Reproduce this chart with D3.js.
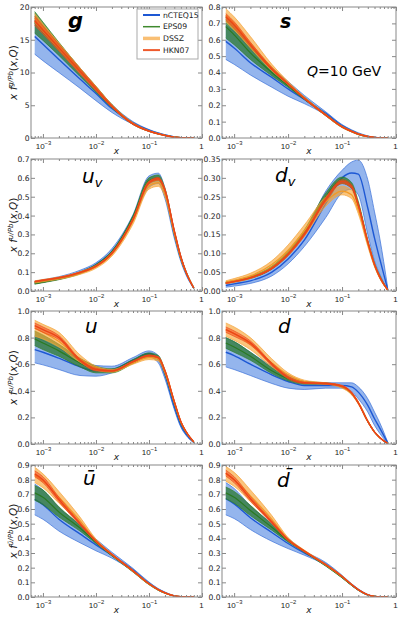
<!DOCTYPE html>
<html><head><meta charset="utf-8">
<script src="https://cdn.jsdelivr.net/npm/d3@7"></script>
<style>body{margin:0;background:#fff} svg{display:block;font-family:"DejaVu Sans",sans-serif}</style>
</head><body>
<svg id="c" width="399" height="619"></svg>
<script>
// x grid shared by every curve
const xGrid = [7e-4, 1e-3, 2e-3, 5e-3, 0.01, 0.02, 0.05, 0.1, 0.15, 0.2, 0.3, 0.4, 0.5, 0.7];
const xTickVals = [1e-3, 1e-2, 1e-1, 1];
const xTickExps = ["\u22123", "\u22122", "\u22121", ""];
const setNames = ["nCTEQ15", "EPS09", "DSSZ", "HKN07"];
const panelNames = ["g", "s", "uv", "dv", "u", "d", "ubar", "dbar"];

// each: [lower, central, upper]
const g_nCTEQ15 = [[12.8,11.8,10.0,7.6,5.7,3.9,2.1,1.1,0.65,0.40,0.14,0.045,0.01,0],[15.5,14.3,12.0,9.0,6.8,4.5,2.3,1.2,0.72,0.45,0.17,0.06,0.02,0],[18.0,16.6,14.0,10.4,7.8,5.1,2.5,1.3,0.80,0.50,0.20,0.075,0.03,0]];
const g_EPS09   = [[16.0,14.9,12.6,9.4,7.0,4.6,2.05,1.0,0.59,0.37,0.13,0.04,0.01,0],[17.6,16.2,13.5,10.0,7.4,4.8,2.15,1.05,0.63,0.40,0.15,0.05,0.015,0],[19.3,17.7,14.6,10.7,7.9,5.1,2.3,1.12,0.68,0.43,0.17,0.06,0.02,0]];
const g_DSSZ    = [[17.6,16.2,13.5,9.9,7.3,4.7,2.1,1.02,0.6,0.37,0.13,0.04,0.01,0],[18.3,16.8,14.0,10.3,7.6,4.9,2.2,1.07,0.64,0.40,0.15,0.05,0.015,0],[19.0,17.4,14.5,10.7,7.9,5.1,2.3,1.12,0.68,0.43,0.17,0.06,0.02,0]];
const g_HKN07   = [[17.2,15.9,13.3,9.8,7.2,4.7,2.05,1.0,0.59,0.36,0.13,0.04,0.01,0],[17.9,16.5,13.8,10.2,7.5,4.85,2.15,1.05,0.62,0.38,0.14,0.045,0.012,0],[18.6,17.1,14.3,10.6,7.8,5.0,2.25,1.1,0.66,0.41,0.16,0.055,0.02,0]];

const s_nCTEQ15 = [[0.48,0.45,0.385,0.31,0.255,0.21,0.14,0.068,0.04,0.022,0.007,0.002,0,0],[0.59,0.55,0.46,0.37,0.30,0.235,0.15,0.075,0.045,0.027,0.01,0.004,0.001,0],[0.69,0.65,0.55,0.43,0.345,0.26,0.16,0.082,0.05,0.032,0.013,0.005,0.002,0]];
const s_EPS09   = [[0.61,0.57,0.48,0.38,0.31,0.235,0.135,0.064,0.037,0.02,0.007,0.002,0,0],[0.68,0.63,0.52,0.40,0.32,0.24,0.14,0.068,0.04,0.023,0.008,0.003,0.001,0],[0.74,0.69,0.57,0.43,0.335,0.25,0.145,0.072,0.043,0.026,0.01,0.004,0.001,0]];
const s_DSSZ    = [[0.71,0.66,0.55,0.41,0.325,0.24,0.135,0.064,0.037,0.021,0.007,0.002,0,0],[0.75,0.70,0.58,0.43,0.335,0.245,0.14,0.068,0.04,0.024,0.009,0.003,0.001,0],[0.79,0.74,0.62,0.45,0.345,0.25,0.145,0.072,0.044,0.027,0.011,0.004,0.001,0]];
const s_HKN07   = [[0.72,0.67,0.56,0.415,0.325,0.238,0.137,0.066,0.038,0.022,0.008,0.002,0,0],[0.74,0.69,0.57,0.42,0.33,0.242,0.14,0.068,0.04,0.024,0.009,0.003,0.001,0],[0.76,0.71,0.585,0.43,0.335,0.246,0.143,0.07,0.042,0.025,0.01,0.004,0.001,0]];

const uv_nCTEQ15 = [[0.038,0.046,0.062,0.093,0.132,0.20,0.375,0.55,0.57,0.49,0.28,0.155,0.085,0.012],[0.045,0.052,0.068,0.100,0.140,0.21,0.39,0.58,0.60,0.52,0.30,0.17,0.095,0.015],[0.052,0.060,0.076,0.110,0.150,0.225,0.405,0.61,0.625,0.545,0.32,0.185,0.105,0.018]];
const uv_EPS09   = [[0.036,0.044,0.060,0.091,0.130,0.198,0.38,0.57,0.585,0.515,0.30,0.168,0.095,0.014],[0.040,0.048,0.064,0.096,0.135,0.205,0.39,0.585,0.60,0.53,0.31,0.175,0.10,0.016],[0.045,0.053,0.069,0.101,0.141,0.212,0.40,0.60,0.615,0.545,0.32,0.182,0.105,0.018]];
const uv_DSSZ    = [[0.042,0.049,0.062,0.088,0.120,0.185,0.355,0.54,0.555,0.50,0.30,0.168,0.095,0.014],[0.048,0.055,0.068,0.095,0.128,0.195,0.37,0.56,0.575,0.52,0.31,0.175,0.10,0.016],[0.054,0.061,0.074,0.102,0.136,0.205,0.385,0.58,0.595,0.54,0.32,0.182,0.105,0.018]];
const uv_HKN07   = [[0.048,0.055,0.068,0.096,0.129,0.196,0.375,0.568,0.588,0.528,0.315,0.176,0.098,0.015],[0.050,0.057,0.070,0.098,0.132,0.20,0.38,0.575,0.595,0.535,0.32,0.18,0.10,0.016],[0.052,0.059,0.072,0.100,0.135,0.204,0.385,0.582,0.602,0.542,0.325,0.184,0.102,0.017]];

const dv_nCTEQ15 = [[0.010,0.013,0.020,0.040,0.072,0.118,0.195,0.26,0.27,0.255,0.15,0.08,0.045,0.002],[0.015,0.019,0.027,0.050,0.085,0.135,0.232,0.30,0.313,0.31,0.22,0.14,0.085,0.005],[0.020,0.025,0.034,0.060,0.098,0.152,0.265,0.32,0.342,0.347,0.295,0.21,0.14,0.01]];
const dv_EPS09   = [[0.020,0.024,0.033,0.058,0.094,0.148,0.24,0.285,0.272,0.222,0.125,0.066,0.035,0.002],[0.022,0.026,0.036,0.062,0.100,0.155,0.25,0.295,0.28,0.23,0.13,0.07,0.038,0.003],[0.024,0.028,0.039,0.066,0.106,0.162,0.26,0.302,0.288,0.238,0.135,0.074,0.041,0.004]];
const dv_DSSZ    = [[0.019,0.023,0.033,0.060,0.094,0.145,0.225,0.255,0.245,0.205,0.118,0.064,0.033,0.002],[0.023,0.028,0.040,0.070,0.108,0.16,0.237,0.265,0.255,0.215,0.125,0.068,0.036,0.003],[0.027,0.033,0.047,0.080,0.122,0.175,0.25,0.278,0.267,0.225,0.132,0.072,0.039,0.004]];
const dv_HKN07   = [[0.020,0.024,0.034,0.058,0.094,0.146,0.238,0.285,0.272,0.224,0.127,0.068,0.035,0.002],[0.021,0.025,0.035,0.060,0.097,0.15,0.243,0.29,0.277,0.228,0.13,0.07,0.037,0.003],[0.022,0.026,0.036,0.062,0.100,0.154,0.248,0.295,0.282,0.232,0.133,0.072,0.039,0.004]];

const u_nCTEQ15 = [[0.61,0.595,0.56,0.515,0.51,0.535,0.61,0.655,0.61,0.49,0.26,0.125,0.065,0.01],[0.71,0.69,0.645,0.58,0.55,0.56,0.63,0.68,0.64,0.52,0.28,0.14,0.075,0.012],[0.81,0.78,0.72,0.64,0.59,0.585,0.65,0.70,0.665,0.55,0.30,0.155,0.085,0.015]];
const u_EPS09   = [[0.74,0.71,0.66,0.58,0.535,0.535,0.605,0.655,0.635,0.525,0.30,0.153,0.085,0.013],[0.79,0.76,0.70,0.61,0.56,0.55,0.62,0.67,0.65,0.54,0.31,0.16,0.09,0.015],[0.85,0.82,0.75,0.645,0.585,0.565,0.635,0.685,0.665,0.555,0.32,0.167,0.095,0.017]];
const u_DSSZ    = [[0.81,0.79,0.73,0.615,0.555,0.54,0.60,0.635,0.625,0.53,0.305,0.158,0.087,0.013],[0.87,0.84,0.77,0.64,0.57,0.55,0.61,0.65,0.64,0.545,0.315,0.165,0.092,0.015],[0.93,0.90,0.84,0.67,0.585,0.56,0.62,0.665,0.655,0.56,0.325,0.172,0.097,0.017]];
const u_HKN07   = [[0.87,0.84,0.785,0.62,0.55,0.545,0.615,0.66,0.645,0.545,0.315,0.164,0.091,0.014],[0.89,0.86,0.80,0.63,0.56,0.55,0.62,0.665,0.65,0.55,0.32,0.167,0.093,0.015],[0.91,0.88,0.815,0.64,0.57,0.555,0.625,0.67,0.655,0.555,0.325,0.17,0.095,0.016]];

const d_nCTEQ15 = [[0.58,0.56,0.515,0.455,0.42,0.41,0.42,0.42,0.395,0.34,0.24,0.14,0.08,0.005],[0.69,0.665,0.60,0.52,0.47,0.44,0.44,0.44,0.43,0.39,0.29,0.19,0.12,0.01],[0.80,0.77,0.69,0.585,0.52,0.47,0.46,0.46,0.46,0.43,0.34,0.24,0.16,0.015]];
const d_EPS09   = [[0.72,0.69,0.63,0.53,0.475,0.45,0.45,0.425,0.375,0.305,0.165,0.087,0.045,0.004],[0.76,0.73,0.66,0.55,0.49,0.46,0.455,0.43,0.38,0.31,0.17,0.09,0.048,0.005],[0.80,0.77,0.69,0.575,0.505,0.47,0.46,0.435,0.385,0.315,0.175,0.093,0.051,0.006]];
const d_DSSZ    = [[0.81,0.78,0.71,0.58,0.50,0.46,0.45,0.42,0.37,0.30,0.165,0.087,0.045,0.004],[0.86,0.83,0.75,0.61,0.52,0.47,0.455,0.43,0.38,0.31,0.17,0.09,0.048,0.005],[0.91,0.88,0.80,0.64,0.535,0.48,0.46,0.44,0.39,0.32,0.175,0.093,0.051,0.006]];
const d_HKN07   = [[0.84,0.81,0.745,0.59,0.49,0.455,0.45,0.43,0.38,0.305,0.167,0.088,0.046,0.004],[0.86,0.83,0.76,0.60,0.50,0.46,0.455,0.435,0.385,0.31,0.17,0.09,0.048,0.005],[0.88,0.85,0.775,0.61,0.51,0.465,0.46,0.44,0.39,0.315,0.173,0.092,0.05,0.006]];

const ubar_nCTEQ15 = [[0.56,0.53,0.45,0.37,0.315,0.265,0.175,0.088,0.047,0.026,0.006,0.001,0,0],[0.665,0.63,0.53,0.43,0.355,0.285,0.185,0.095,0.052,0.03,0.008,0.002,0,0],[0.77,0.73,0.61,0.49,0.395,0.305,0.195,0.102,0.057,0.034,0.01,0.003,0.001,0]];
const ubar_EPS09   = [[0.66,0.63,0.545,0.45,0.365,0.28,0.17,0.084,0.045,0.025,0.006,0.001,0,0],[0.71,0.68,0.58,0.47,0.375,0.285,0.175,0.088,0.048,0.027,0.007,0.002,0,0],[0.76,0.73,0.615,0.49,0.385,0.29,0.18,0.092,0.051,0.029,0.008,0.003,0.001,0]];
const ubar_DSSZ    = [[0.78,0.745,0.64,0.50,0.375,0.285,0.173,0.086,0.047,0.026,0.007,0.001,0,0],[0.83,0.79,0.68,0.52,0.385,0.29,0.178,0.09,0.05,0.028,0.008,0.002,0,0],[0.885,0.84,0.72,0.545,0.395,0.295,0.183,0.094,0.053,0.03,0.009,0.003,0.001,0]];
const ubar_HKN07   = [[0.82,0.78,0.65,0.49,0.375,0.286,0.175,0.088,0.048,0.027,0.007,0.002,0,0],[0.84,0.80,0.665,0.50,0.38,0.29,0.178,0.09,0.05,0.028,0.008,0.002,0,0],[0.86,0.82,0.68,0.51,0.385,0.294,0.181,0.092,0.052,0.029,0.009,0.003,0.001,0]];

const dbar_nCTEQ15 = [[0.56,0.535,0.46,0.38,0.33,0.285,0.215,0.132,0.079,0.045,0.012,0.003,0,0],[0.67,0.635,0.54,0.44,0.365,0.30,0.225,0.14,0.085,0.05,0.015,0.004,0.001,0],[0.78,0.74,0.62,0.50,0.40,0.315,0.235,0.148,0.091,0.055,0.018,0.005,0.002,0]];
const dbar_EPS09   = [[0.67,0.64,0.555,0.455,0.375,0.305,0.21,0.13,0.079,0.046,0.013,0.003,0,0],[0.71,0.68,0.59,0.475,0.385,0.31,0.215,0.135,0.082,0.048,0.014,0.004,0.001,0],[0.75,0.72,0.625,0.495,0.395,0.315,0.22,0.14,0.085,0.05,0.015,0.005,0.002,0]];
const dbar_DSSZ    = [[0.79,0.755,0.65,0.505,0.385,0.31,0.215,0.135,0.082,0.048,0.014,0.003,0,0],[0.84,0.80,0.69,0.53,0.395,0.315,0.22,0.14,0.085,0.05,0.015,0.004,0.001,0],[0.89,0.85,0.73,0.555,0.405,0.32,0.225,0.145,0.088,0.052,0.016,0.005,0.002,0]];
const dbar_HKN07   = [[0.825,0.78,0.655,0.50,0.385,0.308,0.217,0.137,0.083,0.049,0.014,0.003,0,0],[0.845,0.80,0.67,0.51,0.39,0.312,0.22,0.14,0.085,0.05,0.015,0.004,0.001,0],[0.865,0.82,0.685,0.52,0.395,0.316,0.223,0.143,0.087,0.051,0.016,0.005,0.002,0]];

const yMaxes = [20, 0.8, 0.7, 0.35, 1.0, 1.0, 0.9, 0.9];
const yTickSteps = [5, 0.1, 0.1, 0.05, 0.2, 0.2, 0.1, 0.1];
const yTickDigits = [0, 1, 1, 2, 1, 1, 1, 1];
const ySupers = ["g/Pb", "", "u/Pb", "", "u/Pb", "", "\u016B/Pb", ""];

const panelData = [
  [g_nCTEQ15, g_EPS09, g_DSSZ, g_HKN07],
  [s_nCTEQ15, s_EPS09, s_DSSZ, s_HKN07],
  [uv_nCTEQ15, uv_EPS09, uv_DSSZ, uv_HKN07],
  [dv_nCTEQ15, dv_EPS09, dv_DSSZ, dv_HKN07],
  [u_nCTEQ15, u_EPS09, u_DSSZ, u_HKN07],
  [d_nCTEQ15, d_EPS09, d_DSSZ, d_HKN07],
  [ubar_nCTEQ15, ubar_EPS09, ubar_DSSZ, ubar_HKN07],
  [dbar_nCTEQ15, dbar_EPS09, dbar_DSSZ, dbar_HKN07]
];

// styles (not data)
const setStyle = {
  nCTEQ15: {fill: "rgba(60,120,222,0.55)", edge: "#3a70d8", line: "#1d58d4", lw: 1.4},
  EPS09:   {fill: "rgba(40,118,42,0.72)", edge: "#2f7f28", line: "#2a7a22", lw: 1.2},
  DSSZ:    {fill: "rgba(247,158,38,0.6)", edge: "#f5a43a", line: "#f29a25", lw: 1.2},
  HKN07:   {fill: "rgba(240,78,30,0.55)", edge: "#ee4a1e", line: "#ec4418", lw: 1.4}
};
const legendStyle = {
  nCTEQ15: {c: "#1d58d4", w: 2},
  EPS09: {c: "#3f8a2e", w: 1.5},
  DSSZ: {c: "rgba(247,170,70,0.75)", w: 3.5},
  HKN07: {c: "#ef5a2c", w: 2}
};
const cols = [[31, 202], [222, 396]];
const rows = [[7, 138], [159, 291], [311, 444], [465, 597]];
const labelPos = [[68,28],[280,28],[82,183],[275,182],[85,333],[278,333],[83,485],[277,487]];
const axisColor = "#888";

const svg = d3.select("#c");
const defs = svg.append("defs");
const xDomain = [Math.pow(10, -3.225), 1];
const minorVals = [];
for (let k = -4; k <= -1; k++) for (let m = 2; m <= 9; m++) {
  const v = m * Math.pow(10, k);
  if (v > xDomain[0] && v < 1) minorVals.push(v);
}

panelNames.forEach((name, i) => {
  const [x0, x1] = cols[i % 2];
  const [y0, y1] = rows[Math.floor(i / 2)];
  const x = d3.scaleLog().domain(xDomain).range([x0, x1]);
  const y = d3.scaleLinear().domain([0, yMaxes[i]]).range([y1, y0]);
  const g = svg.append("g");

  defs.append("clipPath").attr("id", "clip" + i)
    .append("rect").attr("x", x0).attr("y", y0).attr("width", x1 - x0).attr("height", y1 - y0);
  const plot = g.append("g").attr("clip-path", `url(#clip${i})`);

  setNames.forEach((sn, si) => {
    const [lo, c, hi] = panelData[i][si];
    const pts = xGrid.map((xv, k) => ({x: xv, lo: lo[k], c: c[k], hi: hi[k]}));
    const st = setStyle[sn];
    const area = d3.area().x(d => x(d.x)).y0(d => y(d.lo)).y1(d => y(d.hi)).curve(d3.curveMonotoneX);
    const line = key => d3.line().x(d => x(d.x)).y(d => y(d[key])).curve(d3.curveMonotoneX);
    plot.append("path").datum(pts).attr("d", area).attr("fill", st.fill).attr("stroke", "none");
    ["lo", "hi"].forEach(k => plot.append("path").datum(pts).attr("d", line(k))
      .attr("fill", "none").attr("stroke", st.edge).attr("stroke-width", 0.7));
    plot.append("path").datum(pts).attr("d", line("c"))
      .attr("fill", "none").attr("stroke", st.line).attr("stroke-width", st.lw);
  });

  // axes
  const styleAxis = sel => {
    sel.select(".domain").remove();
    sel.selectAll(".tick line").attr("stroke", axisColor);
  };
  const bottom = g.append("g").attr("transform", `translate(0,${y1})`)
    .call(d3.axisBottom(x).tickValues(xTickVals).tickSize(-4).tickFormat(() => ""));
  styleAxis(bottom);
  bottom.selectAll(".tick text").remove();
  bottom.selectAll(".tick").each(function(d, k) {
    const t = d3.select(this).append("text").attr("y", 10.5).attr("text-anchor", "middle")
      .attr("font-size", 8).attr("fill", "#222");
    if (xTickExps[k] === "") { t.attr("dx", -1).text("1"); }
    else {
      t.append("tspan").text("10");
      t.append("tspan").attr("font-size", 5.8).attr("dy", -3.5).text(xTickExps[k]);
    }
  });
  styleAxis(g.append("g").attr("transform", `translate(0,${y1})`)
    .call(d3.axisBottom(x).tickValues(minorVals).tickSize(-2).tickFormat(() => "")));
  styleAxis(g.append("g").attr("transform", `translate(0,${y0})`)
    .call(d3.axisTop(x).tickValues(xTickVals).tickSize(-4).tickFormat(() => "")));
  styleAxis(g.append("g").attr("transform", `translate(0,${y0})`)
    .call(d3.axisTop(x).tickValues(minorVals).tickSize(-2).tickFormat(() => "")));

  const yTicks = d3.range(0, yMaxes[i] + 1e-9, yTickSteps[i]);
  const left = g.append("g").attr("transform", `translate(${x0},0)`)
    .call(d3.axisLeft(y).tickValues(yTicks).tickSize(-4).tickPadding(1.5)
      .tickFormat(d => d.toFixed(yTickDigits[i])));
  styleAxis(left);
  left.selectAll(".tick text").attr("font-size", 7.6).attr("fill", "#222").attr("font-family", "DejaVu Sans");
  styleAxis(g.append("g").attr("transform", `translate(${x1},0)`)
    .call(d3.axisRight(y).tickValues(yTicks).tickSize(-4).tickFormat(() => "")));

  g.append("rect").attr("x", x0).attr("y", y0).attr("width", x1 - x0).attr("height", y1 - y0)
    .attr("fill", "none").attr("stroke", axisColor).attr("stroke-width", 1);

  // x label
  g.append("text").attr("x", (x0 + x1) / 2).attr("y", y1 + 16).attr("text-anchor", "middle")
    .attr("font-size", 9).attr("font-style", "italic").attr("fill", "#222").text("x");

  // y label (left column only)
  if (i % 2 === 0) {
    const yl = g.append("text").attr("transform", `translate(17,${(y0 + y1) / 2}) rotate(-90)`)
      .attr("text-anchor", "middle").attr("font-size", 10.5).attr("fill", "#222");
    yl.append("tspan").attr("font-style", "italic").text("x f");
    yl.append("tspan").attr("font-size", 7).attr("font-style", "italic").attr("dy", -4).text(ySupers[i]);
    yl.append("tspan").attr("dy", 4).text("(");
    yl.append("tspan").attr("font-style", "italic").text("x");
    yl.append("tspan").text(",");
    yl.append("tspan").attr("font-style", "italic").text("Q");
    yl.append("tspan").text(")");
  }

  // panel label
  const [lx, ly] = labelPos[i];
  const pl = g.append("text").attr("x", lx).attr("y", ly).attr("fill", "#000").attr("font-style", "italic");
  if (name === "g") pl.attr("font-size", 21).attr("font-weight", "bold").text("g");
  else if (name === "s") pl.attr("font-size", 19).attr("font-weight", "bold").text("s");
  else if (name === "uv" || name === "dv") {
    pl.attr("font-size", 20);
    pl.append("tspan").text(name[0]);
    pl.append("tspan").attr("font-size", 13).attr("dy", 4).text("v");
  }
  else if (name === "u" || name === "d") pl.attr("font-size", 20).text(name);
  else pl.attr("font-size", 20).text(name[0] + "\u0304");
});

// Q label
const ql = svg.append("text").attr("x", 307).attr("y", 76).attr("font-size", 14).attr("fill", "#000");
ql.append("tspan").attr("font-style", "italic").text("Q");
ql.append("tspan").text("=10 GeV");

// legend
const lg = svg.append("g");
lg.append("rect").attr("x", 137).attr("y", 9).attr("width", 61).attr("height", 50)
  .attr("fill", "#fff").attr("stroke", "#aaa").attr("stroke-width", 1);
setNames.forEach((sn, k) => {
  const yy = 15 + k * 11.7;
  lg.append("line").attr("x1", 143).attr("x2", 160).attr("y1", yy).attr("y2", yy)
    .attr("stroke", legendStyle[sn].c).attr("stroke-width", legendStyle[sn].w);
  lg.append("text").attr("x", 163).attr("y", yy).attr("dy", "0.35em").attr("font-size", 7.7)
    .attr("fill", "#222").text(sn);
});
</script>
</body></html>
